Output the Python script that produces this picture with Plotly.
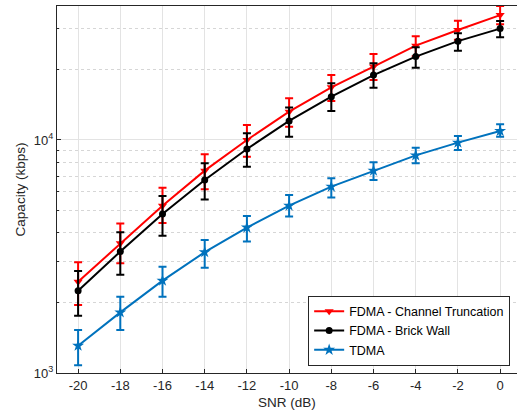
import plotly.graph_objects as go

snr = [-20, -18, -16, -14, -12, -10, -8, -6, -4, -2, 0]

ct_mean = [2465, 3605, 5220, 7385, 10000, 13230, 16830, 20650, 25400, 29650, 34350]
ct_hi   = [2985, 4385, 6240, 8680, 11600, 15100, 19000, 23400, 27900, 32500, 37600]
ct_lo   = [1960, 2960, 4400, 6140, 8480, 11400, 14700, 18100, 22900, 26900, 31400]

bw_mean = [2255, 3320, 4810, 6730, 9150, 12070, 15340, 19000, 22800, 26560, 30060]
bw_hi   = [2740, 4020, 5755, 7940, 10690, 13800, 17500, 21340, 25000, 28700, 32430]
bw_lo   = [1760, 2640, 3885, 5560, 7680, 10330, 13310, 16760, 20420, 24160, 27600]

td_mean = [1309, 1820, 2490, 3300, 4210, 5225, 6310, 7385, 8590, 9740, 10930]
td_hi   = [1531, 2125, 2860, 3720, 4720, 5805, 6855, 8020, 9270, 10400, 11670]
td_lo   = [1080, 1530, 2125, 2830, 3665, 4690, 5670, 6730, 7940, 9060, 10330]

series = [
    ("FDMA - Channel Truncation", ct_mean, ct_hi, ct_lo, "#FF0000", "triangle-down", 8),
    ("FDMA - Brick Wall", bw_mean, bw_hi, bw_lo, "#000000", "circle", 7),
    ("TDMA", td_mean, td_hi, td_lo, "#0072BD", "star", 9),
]

fig = go.Figure()
for name, m, hi, lo, col, sym, sz in series:
    fig.add_trace(go.Scatter(
        x=snr, y=m, name=name, mode="lines+markers",
        line=dict(color=col, width=2),
        marker=dict(symbol=sym, size=sz, color=col),
        error_y=dict(type="data", symmetric=False,
                     array=[h - v for h, v in zip(hi, m)],
                     arrayminus=[v - l for l, v in zip(lo, m)],
                     color=col, thickness=2, width=4),
    ))

axis_col = "#262626"
grid_col = "#e3e3e3"
minor_vals = [2000, 3000, 4000, 5000, 6000, 7000, 8000, 9000, 20000, 30000]

fig.update_layout(
    width=517, height=414,
    margin=dict(l=57, r=0, t=6, b=41),
    paper_bgcolor="white", plot_bgcolor="white",
    font=dict(family="Liberation Sans, Arial, sans-serif", size=13, color=axis_col),
    showlegend=True,
    legend=dict(x=0.546, y=0.02, xanchor="left", yanchor="bottom",
                bgcolor="white", bordercolor=axis_col, borderwidth=1,
                font=dict(size=12.5, color="#000000"),
                tracegroupgap=0, itemwidth=30),
    xaxis=dict(
        range=[-21, 0.8], tickvals=snr, ticktext=[str(v) for v in snr],
        showgrid=True, gridcolor=grid_col, gridwidth=1,
        showline=True, linecolor=axis_col, linewidth=1, mirror=True,
        ticks="inside", ticklen=4, tickcolor=axis_col,
        tickfont=dict(size=13, color=axis_col),
        title=dict(text="SNR (dB)", font=dict(size=13.5, color=axis_col), standoff=5),
        zeroline=False, automargin=False,
    ),
    yaxis=dict(
        type="log", range=[3, 4.575],
        tickvals=[1000, 10000], ticktext=["10<sup>3</sup>", "10<sup>4</sup>"],
        showgrid=True, gridcolor=grid_col, gridwidth=1,
        showline=True, linecolor=axis_col, linewidth=1, mirror=True,
        ticks="inside", ticklen=4, tickcolor=axis_col,
        tickfont=dict(size=13, color=axis_col),
        minor=dict(tickvals=minor_vals, showgrid=True, gridcolor="#d6d6d6",
                   griddash="dot", ticks="inside", ticklen=2, tickcolor=axis_col),
        title=dict(text="Capacity (kbps)", font=dict(size=13.5, color=axis_col), standoff=5),
        zeroline=False, automargin=False,
    ),
)

fig.write_html("out.html", config={"displayModeBar": False},
               post_script="document.body.style.margin='0px';document.body.style.padding='0px';")
